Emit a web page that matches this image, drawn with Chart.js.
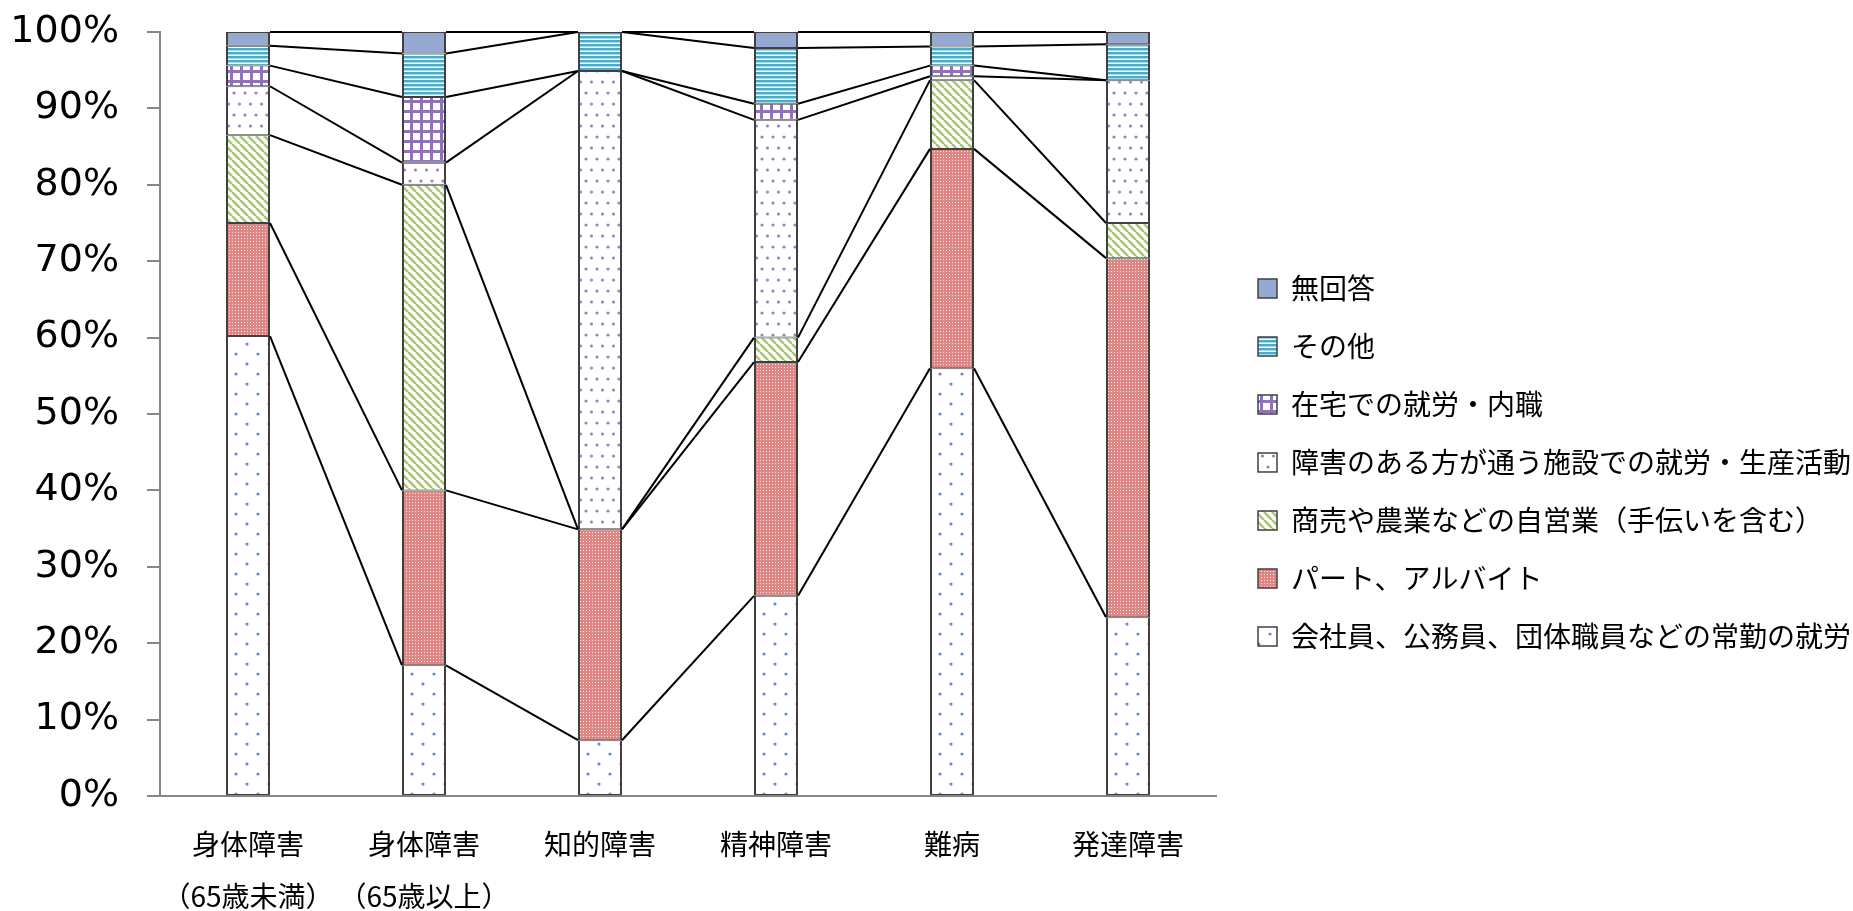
<!DOCTYPE html>
<html lang="ja">
<head>
<meta charset="utf-8">
<title>就労の状況</title>
<script src="https://cdn.jsdelivr.net/npm/chart.js@4.4.0/dist/chart.umd.min.js"></script>
<style>
  html, body { margin: 0; padding: 0; background: #fff; }
  #wrap { width: 1853px; height: 911px; }
</style>
</head>
<body>
<div id="wrap"><canvas id="chart" width="1853" height="911"></canvas></div>
<script>
// categories (x axis)
const categories = [
    ['身体障害', '（65歳未満）'],
    ['身体障害', '（65歳以上）'],
    '知的障害',
    '精神障害',
    '難病',
    '発達障害'
];

// series, bottom of the stack first (%)
const fullTime   = [60.2, 17.1,  7.3, 26.2, 56.0, 23.4];
const partTime   = [14.8, 22.9, 27.6, 30.6, 28.7, 47.0];
const selfEmploy = [11.5, 40.0,  0.0,  3.2,  9.0,  4.6];
const facility   = [ 6.4,  2.9, 60.0, 28.5,  0.5, 18.7];
const homeWork   = [ 2.7,  8.6,  0.0,  2.1,  1.4,  0.0];
const other      = [ 2.6,  5.7,  5.1,  7.3,  2.5,  4.7];
const noAnswer   = [ 1.8,  2.8,  0.0,  2.1,  1.9,  1.6];

const yTicks = [0, 10, 20, 30, 40, 50, 60, 70, 80, 90, 100];

// fill patterns
function makePattern(w, h, draw) {
    const c = document.createElement('canvas');
    c.width = w;
    c.height = h;
    const g = c.getContext('2d');
    g.fillStyle = '#fff';
    g.fillRect(0, 0, w, h);
    draw(g);
    return g.createPattern(c, 'repeat');
}

function dot(g, x, y, r, color) {
    g.fillStyle = color;
    g.beginPath();
    g.arc(x, y, r, 0, Math.PI * 2);
    g.fill();
}

const blueDots = makePattern(22, 20, g => {
    dot(g, 5, 4, 1.6, '#5b8ed6');
    dot(g, 16, 14, 1.6, '#5b8ed6');
});

const redCheck = makePattern(3, 3, g => {
    g.fillStyle = '#de8784';
    g.fillRect(0, 0, 3, 3);
    g.fillStyle = '#fbe7e6';
    g.fillRect(1, 1, 1, 1);
});

const greenDiag = makePattern(8, 8, g => {
    g.strokeStyle = '#a9c86d';
    g.lineWidth = 2.5;
    for (let k = -1; k <= 1; k++) {
        g.beginPath();
        g.moveTo(k * 8, 0);
        g.lineTo(k * 8 + 8, 8);
        g.stroke();
    }
});

const purpleDots = makePattern(11, 22, g => {
    dot(g, 3, 5, 1.6, '#9a80c0');
    dot(g, 8.5, 16, 1.6, '#9a80c0');
});

const purpleGrid = makePattern(10, 10, g => {
    g.fillStyle = '#8f72b8';
    g.fillRect(0, 0, 10, 3);
    g.fillRect(0, 0, 3, 10);
});

const tealStripes = makePattern(4, 4, g => {
    g.fillStyle = '#4bacc6';
    g.fillRect(0, 0, 4, 2);
    g.fillStyle = '#a8d8e5';
    g.fillRect(0, 2, 4, 1);
});

const solidBlue = '#95a9d1';

function bars(label, data, fill) {
    return {
        label: label,
        data: data,
        backgroundColor: fill,
        borderColor: '#404040',
        borderWidth: { left: 2, right: 2, top: 1, bottom: 1 },
        borderSkipped: false,
        categoryPercentage: 1,
        barPercentage: 0.25
    };
}

// Excel-style series lines joining the stack tops of neighbouring bars
const seriesLines = {
    id: 'seriesLines',
    afterDatasetsDraw(chart) {
        const ctx = chart.ctx;
        ctx.save();
        ctx.strokeStyle = '#000';
        ctx.lineWidth = 2;
        chart.data.datasets.forEach((ds, d) => {
            const els = chart.getDatasetMeta(d).data;
            for (let i = 0; i < els.length - 1; i++) {
                const a = els[i], b = els[i + 1];
                ctx.beginPath();
                ctx.moveTo(a.x + a.width / 2, a.y);
                ctx.lineTo(b.x - b.width / 2, b.y);
                ctx.stroke();
            }
        });
        ctx.restore();
    }
};

// fixed legend width so the plot ends where the original does,
// then nudge the legend a little right / down
const legendPlace = {
    id: 'legendPlace',
    beforeLayout(chart) {
        const lg = chart.legend;
        if (lg && !lg._fixedFit) {
            const fit = lg.fit;
            lg.fit = function () {
                fit.call(this);
                this.width = 637;
            };
            lg._fixedFit = true;
        }
    },
    afterLayout(chart) {
        const lg = chart.legend;
        lg.left += 12;
        lg.right += 12;
        lg.top += 7;
        lg.bottom += 7;
    }
};

new Chart(document.getElementById('chart'), {
    type: 'bar',
    data: {
        labels: categories,
        datasets: [
            bars('会社員、公務員、団体職員などの常勤の就労', fullTime, blueDots),
            bars('パート、アルバイト', partTime, redCheck),
            bars('商売や農業などの自営業（手伝いを含む）', selfEmploy, greenDiag),
            bars('障害のある方が通う施設での就労・生産活動', facility, purpleDots),
            bars('在宅での就労・内職', homeWork, purpleGrid),
            bars('その他', other, tealStripes),
            bars('無回答', noAnswer, solidBlue)
        ]
    },
    plugins: [seriesLines, legendPlace],
    options: {
        responsive: false,
        animation: false,
        layout: { padding: 0 },
        plugins: {
            tooltip: { enabled: false },
            legend: {
                position: 'right',
                reverse: true,
                labels: {
                    boxWidth: 19,
                    boxHeight: 19,
                    padding: 30,
                    color: '#000',
                    font: { family: '"Noto Sans CJK JP", sans-serif', size: 28 }
                }
            }
        },
        scales: {
            x: {
                stacked: true,
                grid: { display: false },
                border: { display: true, color: '#868686', width: 2 },
                ticks: {
                    color: '#000',
                    padding: 14,
                    maxRotation: 0,
                    autoSkip: false,
                    font: { family: '"Noto Sans CJK JP", sans-serif', size: 28, lineHeight: 1.86 }
                },
                afterFit(scale) { scale.height = 115; }
            },
            y: {
                stacked: true,
                min: 0,
                max: 100,
                afterBuildTicks(scale) { scale.ticks = yTicks.map(v => ({ value: v })); },
                grid: { drawOnChartArea: false, drawTicks: true, tickLength: 13, color: '#868686', lineWidth: 2 },
                border: { display: true, color: '#868686', width: 2 },
                ticks: {
                    color: '#000',
                    padding: 28,
                    font: { family: '"DejaVu Sans", Verdana, sans-serif', size: 38 },
                    callback: v => v + '%'
                },
                afterFit(scale) {
                    scale.width = 160;
                    scale.paddingTop = 32;
                    scale.paddingBottom = 0;
                }
            }
        }
    }
});
</script>
</body>
</html>
